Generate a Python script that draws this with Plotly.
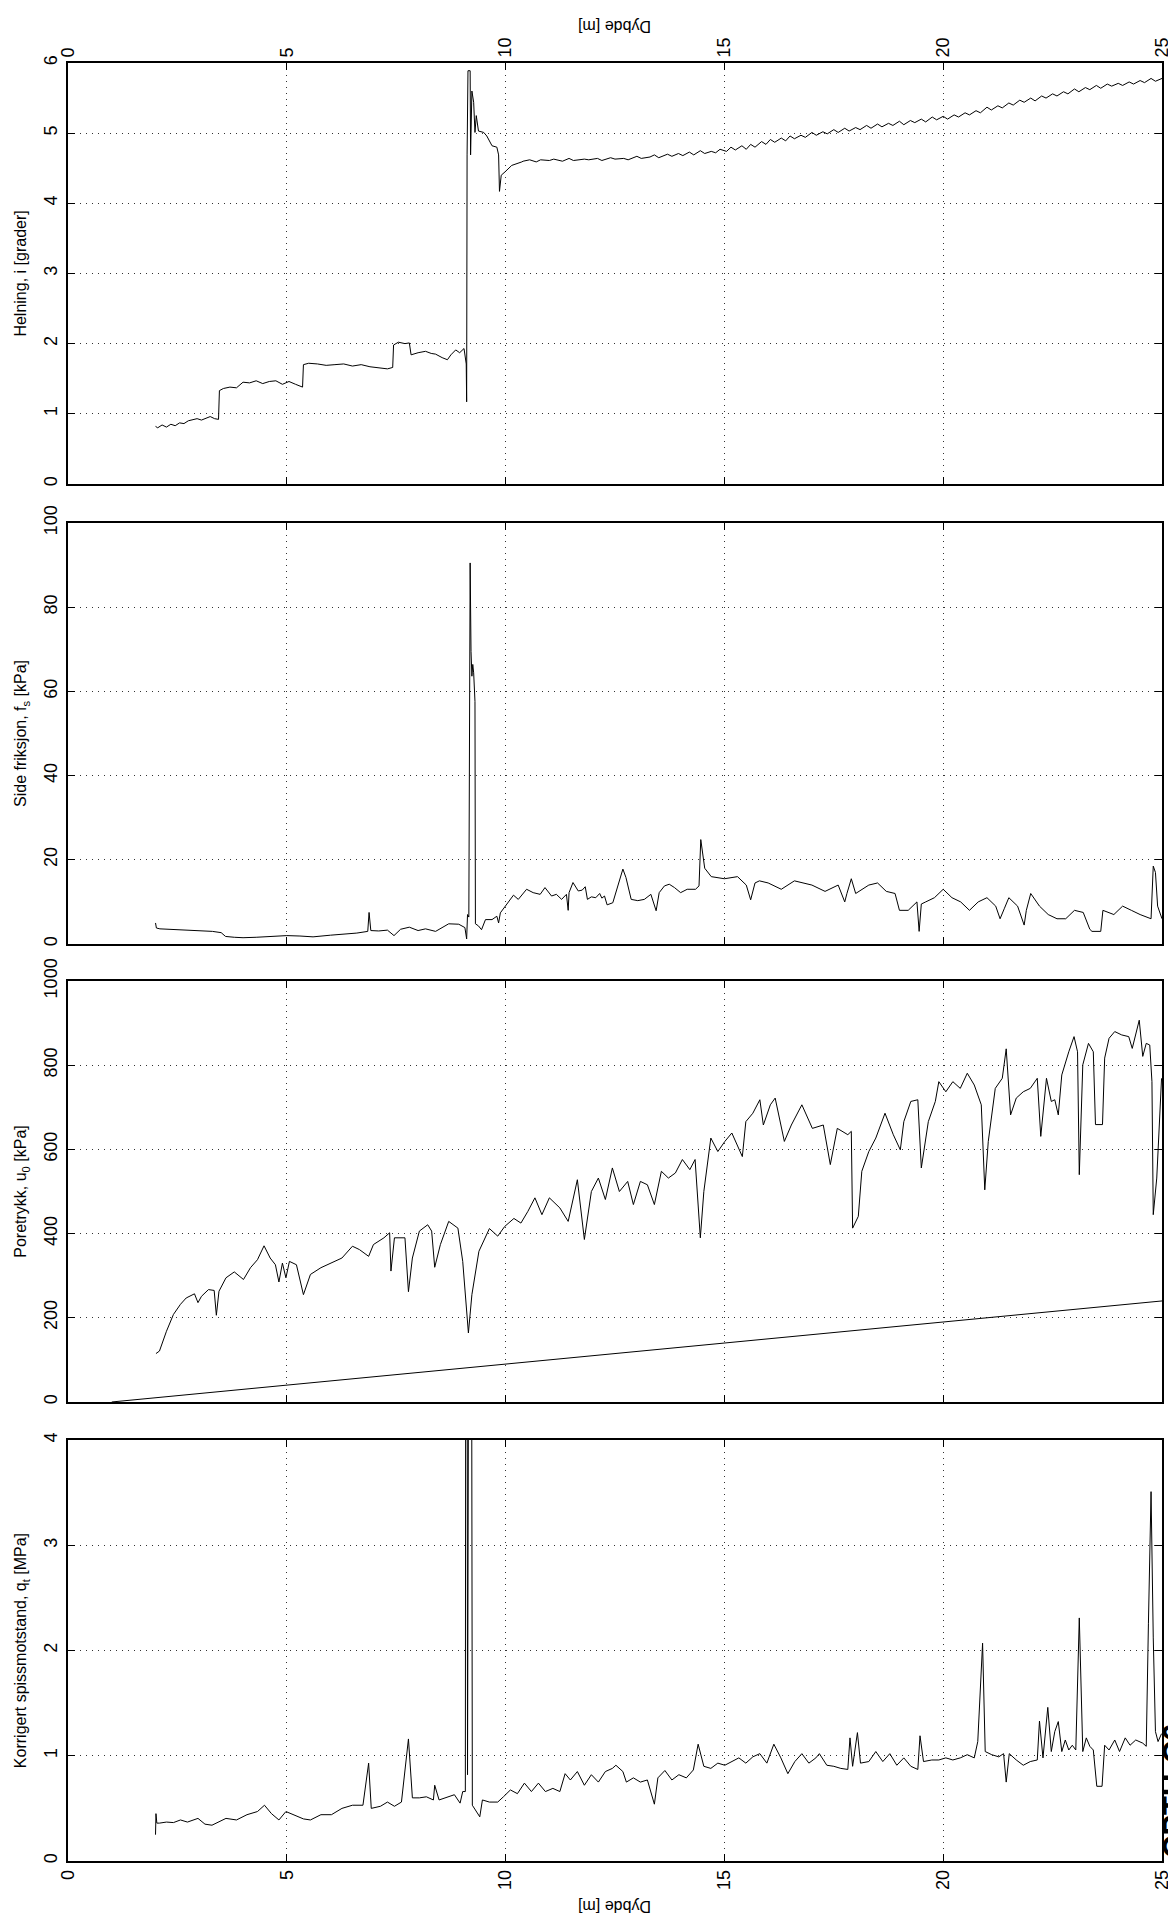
import plotly.graph_objects as go

# ---------------- data ----------------
depth_incl = [2.0, 2.05, 2.15, 2.25, 2.35, 2.45, 2.55, 2.65, 2.75, 2.85, 2.95, 3.05, 3.15, 3.25, 3.35, 3.44,
              3.46, 3.55, 3.7, 3.85, 4.0, 4.15, 4.3, 4.45, 4.6, 4.75, 4.9, 5.05, 5.2, 5.36,
              5.38, 5.5, 5.7, 5.9, 6.1, 6.3, 6.5, 6.7, 6.9, 7.1, 7.3, 7.42,
              7.44, 7.55, 7.7, 7.8, 7.84, 8.0, 8.17, 8.3, 8.4, 8.55, 8.67, 8.75, 8.86, 8.95, 9.05,
              9.10, 9.11, 9.12, 9.14, 9.19, 9.20, 9.23, 9.27, 9.30, 9.33, 9.38, 9.50, 9.57, 9.65,
              9.69, 9.80, 9.84, 9.86, 9.90, 9.99, 10.14, 10.37,
              10.4, 10.55, 10.7, 10.8, 11.0, 11.1, 11.3, 11.45, 11.55, 11.8, 11.9, 12.1, 12.2,
              12.4, 12.5, 12.7, 12.8, 13.0, 13.1, 13.3, 13.4, 13.5, 13.7, 13.8, 13.95, 14.05,
              14.2, 14.3, 14.45, 14.55, 14.7, 14.8, 14.9, 15.05, 15.15, 15.25, 15.4, 15.5, 15.6,
              15.7, 15.85, 15.95, 16.05, 16.15, 16.3, 16.4, 16.5, 16.6, 16.75, 16.85, 17.0, 17.1,
              17.25, 17.35, 17.5, 17.6, 17.75, 17.85, 18.0, 18.1, 18.25, 18.35, 18.5, 18.6, 18.75,
              18.85, 19.0, 19.1, 19.25, 19.35, 19.5, 19.6, 19.75, 19.85, 20.0, 20.1, 20.25, 20.35,
              20.5, 20.6, 20.75, 20.85, 21.0, 21.1, 21.25, 21.35, 21.5, 21.6, 21.75, 21.85, 22.0,
              22.1, 22.25, 22.35, 22.5, 22.6, 22.75, 22.85, 23.0, 23.1, 23.25, 23.35, 23.5, 23.6,
              23.75, 23.85, 24.0, 24.1, 24.25, 24.35, 24.5, 24.6, 24.75, 24.85, 25.0]
incl = [0.82, 0.80, 0.84, 0.81, 0.85, 0.83, 0.87, 0.86, 0.90, 0.92, 0.93, 0.91, 0.94, 0.96, 0.93, 0.92,
        1.33, 1.36, 1.38, 1.37, 1.45, 1.44, 1.47, 1.43, 1.46, 1.47, 1.42, 1.46, 1.42, 1.38,
        1.70, 1.72, 1.71, 1.69, 1.70, 1.71, 1.68, 1.70, 1.67, 1.66, 1.64, 1.66,
        1.98, 2.02, 2.00, 2.01, 1.84, 1.87, 1.89, 1.86, 1.85, 1.80, 1.77, 1.84, 1.91, 1.87, 1.93,
        1.71, 1.17, 4.69, 5.89, 5.89, 4.69, 5.60, 5.44, 5.01, 5.25, 5.03, 5.01, 4.96, 4.86,
        4.82, 4.80, 4.69, 4.17, 4.40, 4.45, 4.54, 4.59,
        4.60, 4.62, 4.59, 4.62, 4.61, 4.63, 4.60, 4.64, 4.61, 4.63, 4.62, 4.64, 4.61,
        4.65, 4.63, 4.64, 4.62, 4.67, 4.64, 4.66, 4.69, 4.65, 4.70, 4.67, 4.71, 4.68,
        4.73, 4.69, 4.75, 4.71, 4.74, 4.72, 4.77, 4.74, 4.80, 4.76, 4.82, 4.77, 4.84,
        4.80, 4.88, 4.84, 4.91, 4.87, 4.93, 4.89, 4.96, 4.92, 4.97, 4.94, 5.01, 4.97,
        5.02, 4.99, 5.05, 5.01, 5.07, 5.03, 5.08, 5.05, 5.11, 5.07, 5.13, 5.09, 5.14,
        5.11, 5.17, 5.12, 5.18, 5.15, 5.20, 5.16, 5.23, 5.19, 5.24, 5.20, 5.26, 5.23,
        5.29, 5.26, 5.32, 5.29, 5.37, 5.33, 5.39, 5.36, 5.43, 5.40, 5.47, 5.44, 5.50,
        5.46, 5.53, 5.50, 5.56, 5.53, 5.59, 5.56, 5.63, 5.59, 5.65, 5.62, 5.68, 5.64,
        5.70, 5.67, 5.71, 5.68, 5.73, 5.70, 5.75, 5.72, 5.78, 5.74, 5.78]

depth_fs = [2.0, 2.02, 2.1, 2.3, 2.5, 2.8, 3.0, 3.3, 3.5, 3.6, 3.8, 4.0, 4.3, 4.6, 5.0, 5.3, 5.6, 6.0,
            6.3, 6.6, 6.85, 6.88, 6.92, 7.1, 7.3, 7.45, 7.6, 7.8, 8.0, 8.17, 8.4, 8.7, 8.93, 9.07,
            9.11, 9.13, 9.16, 9.19, 9.21, 9.23, 9.25, 9.27, 9.30, 9.31, 9.38, 9.45, 9.54, 9.69,
            9.80, 9.84, 9.88, 9.99, 10.1, 10.18, 10.29, 10.48, 10.63, 10.79, 10.9, 11.05, 11.16,
            11.28, 11.39, 11.43, 11.45, 11.54, 11.66, 11.75, 11.82, 11.87, 11.96, 12.06, 12.15,
            12.2, 12.26, 12.32, 12.45, 12.56, 12.68, 12.75, 12.87, 13.02, 13.17, 13.32, 13.44,
            13.51, 13.63, 13.74, 13.86, 14.0, 14.15, 14.34, 14.42, 14.46, 14.55, 14.7, 15.0,
            15.3, 15.5, 15.6, 15.7, 15.8, 16.0, 16.3, 16.6, 17.0, 17.3, 17.6, 17.75, 17.8, 17.9,
            18.0, 18.3, 18.5, 18.7, 18.9, 19.0, 19.2, 19.4, 19.45, 19.5, 19.6, 19.8, 20.0, 20.2,
            20.4, 20.6, 20.8, 21.0, 21.2, 21.3, 21.4, 21.5, 21.7, 21.85, 21.9, 22.0, 22.2, 22.4,
            22.6, 22.8, 23.0, 23.2, 23.35, 23.4, 23.6, 23.65, 23.9, 24.1, 24.3, 24.5, 24.75,
            24.8, 24.85, 24.9, 25.0]
fs = [5.0, 3.8, 3.6, 3.5, 3.4, 3.3, 3.2, 3.0, 2.7, 1.8, 1.6, 1.5, 1.6, 1.7, 2.0, 1.9, 1.7, 2.1,
      2.3, 2.6, 3.0, 7.5, 3.2, 3.1, 3.3, 2.0, 3.5, 4.0, 3.2, 3.6, 3.0, 4.8, 4.7, 3.9,
      1.2, 7.0, 6.4, 90.5, 69.5, 63.6, 66.4, 64.4, 57.6, 4.8, 4.3, 3.4, 5.8, 5.8,
      6.6, 5.0, 7.4, 9.0, 10.6, 11.6, 10.6, 13.0, 12.2, 11.8, 13.4, 11.4, 11.8,
      10.6, 11.8, 8.0, 12.2, 14.6, 12.6, 12.8, 13.6, 10.6, 11.2, 11.0, 12.0,
      10.9, 11.4, 9.3, 9.8, 13.4, 17.8, 15.8, 10.6, 10.3, 10.6, 11.8, 7.9,
      12.2, 13.8, 14.2, 13.4, 12.2, 13.0, 13.0, 13.8, 24.8, 18.0, 16.0, 15.5,
      16.0, 14.0, 10.5, 14.5, 15.0, 14.5, 13.0, 15.0, 14.0, 12.5, 14.0, 10.0, 12.0, 15.5,
      12.0, 14.0, 14.5, 12.5, 12.0, 8.0, 8.0, 10.0, 3.0, 9.5, 10.0, 11.0, 13.0, 11.0,
      10.0, 8.0, 10.0, 11.0, 9.0, 6.0, 8.5, 11.0, 9.0, 4.5, 8.0, 12.0, 9.0, 7.0,
      6.0, 6.0, 8.0, 7.5, 3.5, 3.0, 3.0, 8.0, 7.0, 9.0, 8.0, 7.0, 6.0,
      18.5, 17.0, 9.0, 6.0]

depth_u = [2.01, 2.09, 2.25, 2.41, 2.57, 2.70, 2.89, 2.97, 3.05, 3.21, 3.34, 3.39, 3.45, 3.61, 3.80,
           4.01, 4.17, 4.33, 4.48, 4.62, 4.74, 4.82, 4.90, 4.98, 5.06, 5.22, 5.38, 5.54, 5.78, 6.02,
           6.26, 6.50, 6.66, 6.87, 6.98, 7.22, 7.35, 7.38, 7.46, 7.70, 7.78, 7.87, 8.03, 8.22, 8.31,
           8.38, 8.51, 8.70, 8.91, 9.02, 9.12, 9.15, 9.23, 9.39, 9.63, 9.82, 9.98, 10.19, 10.35,
           10.51, 10.67, 10.83, 11.0, 11.24, 11.43, 11.64, 11.80, 11.96, 12.12, 12.28, 12.44,
           12.60, 12.79, 12.92, 13.08, 13.24, 13.40, 13.56, 13.72, 13.88, 14.04, 14.21, 14.33,
           14.45, 14.53, 14.69, 14.85, 15.01, 15.17, 15.41, 15.49, 15.65, 15.81, 15.89, 16.05,
           16.16, 16.37, 16.53, 16.77, 17.01, 17.26, 17.42, 17.58, 17.82, 17.90, 17.93, 18.06,
           18.14, 18.30, 18.46, 18.67, 18.86, 19.02, 19.10, 19.26, 19.42, 19.50, 19.66, 19.82,
           19.90, 20.06, 20.22, 20.39, 20.55, 20.71, 20.87, 20.95, 21.03, 21.19, 21.35, 21.44,
           21.54, 21.67, 21.83, 21.99, 22.15, 22.23, 22.36, 22.47, 22.55, 22.63, 22.71, 22.87,
           22.99, 23.07, 23.11, 23.19, 23.32, 23.43, 23.48, 23.64, 23.69, 23.79, 23.92, 24.08,
           24.24, 24.32, 24.40, 24.48, 24.56, 24.64, 24.72, 24.77, 24.80, 24.88, 24.99]
u2 = [115, 121, 168, 208, 232, 247, 257, 236, 251, 267, 265, 206, 263, 295, 309,
      291, 319, 338, 371, 342, 326, 285, 330, 295, 334, 326, 255, 303, 319, 330,
      342, 370, 362, 346, 374, 390, 402, 311, 390, 390, 262, 342, 406, 421, 406,
      320, 374, 429, 413, 334, 216, 164, 255, 358, 412, 394, 417, 436, 425,
      453, 485, 445, 485, 461, 429, 528, 386, 500, 532, 481, 556,
      500, 524, 469, 524, 516, 469, 548, 532, 544, 576, 552, 576,
      390, 500, 627, 595, 619, 639, 583, 666, 686, 718, 658, 706,
      722, 619, 658, 706, 650, 658, 564, 650, 635, 643, 413, 441,
      548, 595, 627, 686, 635, 599, 666, 714, 718, 556, 666, 714,
      761, 737, 761, 745, 781, 753, 706, 504, 619, 745, 769, 839,
      682, 722, 737, 745, 769, 631, 769, 714, 718, 682, 777, 832,
      868, 832, 540, 801, 852, 832, 659, 659, 817, 864, 880, 872,
      868, 840, 872, 907, 821, 852, 848, 761, 445, 532, 769]

depth_u0 = [1.0, 25.0]
u0 = [0, 240]

depth_qt = [2.0, 2.01, 2.03, 2.09, 2.25, 2.41, 2.57, 2.73, 2.97, 3.13, 3.29, 3.45, 3.61, 3.85, 4.09,
            4.33, 4.49, 4.65, 4.82, 4.98, 5.14, 5.38, 5.54, 5.78, 6.02, 6.26, 6.50, 6.74, 6.87,
            6.93, 7.14, 7.30, 7.46, 7.62, 7.78, 7.87, 8.03, 8.19, 8.35, 8.38, 8.48, 8.67, 8.83,
            8.96, 9.02, 9.08, 9.09, 9.12, 9.13, 9.16, 9.22, 9.24, 9.41, 9.47, 9.63, 9.82, 9.95,
            10.11, 10.27, 10.43, 10.59, 10.75, 10.91, 11.08, 11.24, 11.36, 11.48, 11.64, 11.80,
            11.96, 12.12, 12.28, 12.44, 12.52, 12.68, 12.76, 12.92, 13.08, 13.24, 13.40, 13.48,
            13.64, 13.80, 13.96, 14.13, 14.29, 14.40, 14.53, 14.69, 14.85, 15.01, 15.17, 15.33,
            15.49, 15.65, 15.81, 15.97, 16.13, 16.29, 16.45, 16.61, 16.77, 16.93, 17.09, 17.17,
            17.34, 17.50, 17.66, 17.82, 17.87, 17.93, 18.04, 18.11, 18.30, 18.46, 18.62, 18.78,
            18.94, 19.10, 19.26, 19.42, 19.47, 19.55, 19.74, 19.90, 20.06, 20.22, 20.39, 20.55,
            20.71, 20.79, 20.90, 20.96, 21.11, 21.27, 21.38, 21.44, 21.51, 21.67, 21.83, 21.99,
            22.15, 22.20, 22.28, 22.39, 22.47, 22.55, 22.63, 22.71, 22.79, 22.87, 22.95, 23.03,
            23.11, 23.19, 23.27, 23.35, 23.43, 23.51, 23.63, 23.69, 23.79, 23.92, 24.03, 24.16,
            24.27, 24.40, 24.56, 24.64, 24.69, 24.75, 24.80, 24.85, 24.91, 24.99]
qt = [0.25, 0.45, 0.36, 0.36, 0.37, 0.365, 0.39, 0.37, 0.405, 0.35, 0.34, 0.37, 0.405, 0.39, 0.44,
      0.47, 0.53, 0.45, 0.39, 0.47, 0.44, 0.40, 0.39, 0.44, 0.44, 0.50, 0.53, 0.53, 0.93,
      0.50, 0.52, 0.56, 0.52, 0.56, 1.16, 0.60, 0.60, 0.61, 0.58, 0.72, 0.58, 0.61, 0.63,
      0.55, 0.66, 0.66, 6.0, 6.0, 0.82, 6.0, 6.0, 0.53, 0.42, 0.58, 0.56, 0.56, 0.61,
      0.675, 0.64, 0.74, 0.66, 0.74, 0.66, 0.69, 0.66, 0.83, 0.77, 0.85, 0.72,
      0.82, 0.75, 0.85, 0.88, 0.91, 0.85, 0.75, 0.79, 0.75, 0.77, 0.54, 0.79,
      0.86, 0.77, 0.82, 0.79, 0.865, 1.11, 0.90, 0.88, 0.93, 0.91, 0.945, 0.98,
      0.93, 0.99, 1.02, 0.93, 1.11, 0.98, 0.83, 0.945, 1.02, 0.93, 0.98, 1.02,
      0.91, 0.90, 0.88, 0.87, 1.17, 0.90, 1.22, 0.93, 0.945, 1.04, 0.945, 1.02,
      0.91, 0.98, 0.90, 0.87, 1.19, 0.945, 0.96, 0.96, 0.98, 0.96, 0.98, 1.01,
      0.98, 1.135, 2.07, 1.04, 1.01, 0.99, 1.02, 0.75, 1.02, 0.96, 0.91, 0.945,
      0.96, 1.33, 0.98, 1.46, 1.04, 1.23, 1.325, 1.04, 1.15, 1.055, 1.10, 1.055,
      2.31, 1.04, 1.17, 1.09, 1.055, 0.71, 0.71, 1.10, 1.055, 1.15, 1.04, 1.17,
      1.10, 1.15, 1.12, 1.09, 2.26, 3.51, 2.12, 1.23, 1.135, 1.21]

x_ticks = [0, 5, 10, 15, 20, 25]
y_titles = ["Helning, i [grader]",
            "Side friksjon, f<sub>s</sub> [kPa]",
            "Poretrykk, u<sub>0</sub> [kPa]",
            "Korrigert spissmotstand, q<sub>t</sub> [MPa]"]
y_ranges = [[0, 6], [0, 100], [0, 1000], [0, 4]]
y_dticks = [1, 20, 200, 1]

# ---------------- figure ----------------
FONT = "Liberation Sans, Arial, sans-serif"
line = dict(color="black", width=1)

fig = go.Figure()
fig.add_trace(go.Scatter(x=depth_incl, y=incl, mode="lines", line=line, xaxis="x", yaxis="y"))
fig.add_trace(go.Scatter(x=depth_fs, y=fs, mode="lines", line=line, xaxis="x2", yaxis="y2"))
fig.add_trace(go.Scatter(x=depth_u, y=u2, mode="lines", line=line, xaxis="x3", yaxis="y3"))
fig.add_trace(go.Scatter(x=depth_u0, y=u0, mode="lines", line=line, xaxis="x3", yaxis="y3"))
fig.add_trace(go.Scatter(x=depth_qt, y=qt, mode="lines", line=line, xaxis="x4", yaxis="y4"))

domains = [[0.7659, 1.0], [0.5100, 0.7442], [0.2553, 0.4894], [0.0, 0.2341]]

common_axis = dict(showline=True, linecolor="black", linewidth=1.6, mirror="ticks",
                   ticks="inside", ticklen=7, tickcolor="black", showgrid=True,
                   gridcolor="#333333", griddash="1px,5px", gridwidth=1, zeroline=False,
                   tickfont=dict(family=FONT, size=18, color="black"), tickangle=-90)

layout = {}
for i in range(4):
    sx = "" if i == 0 else str(i + 1)
    xa = dict(common_axis, range=[0, 25], tickvals=x_ticks, anchor="y" + sx,
              domain=[0, 1])
    if i == 0:
        xa.update(side="top", showticklabels=True)
    elif i == 3:
        xa.update(side="bottom", showticklabels=True)
    else:
        xa.update(showticklabels=False)
    ya = dict(common_axis, range=y_ranges[i], dtick=y_dticks[i], anchor="x" + sx,
              domain=domains[i], ticklabelstandoff=2,
              title=dict(text=y_titles[i], standoff=10,
                         font=dict(family=FONT, size=16, color="black")))
    layout["xaxis" + sx] = xa
    layout["yaxis" + sx] = ya

fig.update_layout(**layout)
fig.update_layout(
    width=1176, height=1922,
    margin=dict(l=60, r=15, t=55, b=69),
    paper_bgcolor="white", plot_bgcolor="white",
    showlegend=False,
    font=dict(family=FONT, size=14, color="black"),
    annotations=[
        dict(text="Dybde [m]", xref="paper", yref="paper", x=0.5, y=1.0206,
             xanchor="center", yanchor="middle",
             showarrow=False, textangle=180, font=dict(family=FONT, size=16)),
        dict(text="Dybde [m]", xref="paper", yref="paper", x=0.5, y=-0.025,
             xanchor="center", yanchor="middle",
             showarrow=False, textangle=180, font=dict(family=FONT, size=16)),
        dict(text="<b>CPTU-C6</b>", xref="paper", yref="paper", x=1.012, y=0.039,
             xanchor="center", yanchor="middle", showarrow=False, textangle=-90,
             font=dict(family=FONT, size=31)),
    ],
)

fig.write_html("out.html")
